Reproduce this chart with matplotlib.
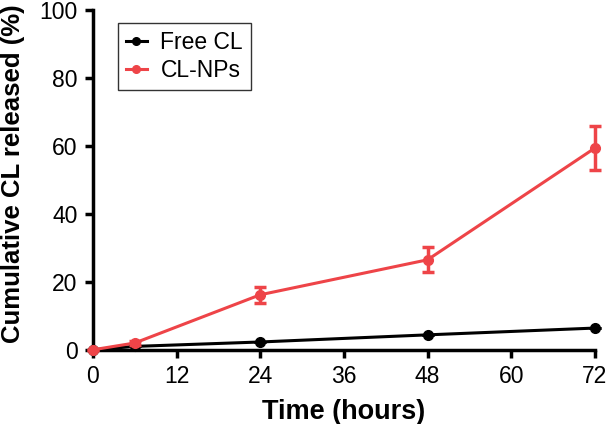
import matplotlib
matplotlib.use("Agg")
import matplotlib.pyplot as plt
from matplotlib.lines import Line2D

plt.rcParams["font.family"] = ["Liberation Sans", "DejaVu Sans"]

time_h = [0, 6, 24, 48, 72]
free_cl = [0, 1.0, 2.3, 4.4, 6.4]
free_cl_err = [0, 0, 0, 0, 0]
cl_nps = [0, 2.0, 16.2, 26.5, 59.4]
cl_nps_err = [0, 0.5, 2.4, 3.7, 6.4]

black = "black"
red = "#ee4448"

fig = plt.figure(figsize=(6.07, 4.24), dpi=100)
ax = fig.add_axes([0.153, 0.175, 0.827, 0.801])

ax.errorbar(time_h, free_cl, yerr=free_cl_err, color=black, marker="o", markersize=7,
            linewidth=2.2, capsize=4, capthick=2, elinewidth=2, zorder=3, clip_on=False)
ax.errorbar(time_h, cl_nps, yerr=cl_nps_err, color=red, marker="o", markersize=7,
            linewidth=2.2, capsize=4, capthick=2.5, elinewidth=2.5, zorder=4, clip_on=False)

ax.set_xlim(0, 72)
ax.set_ylim(0, 100)
ax.set_xticks([0, 12, 24, 36, 48, 60, 72])
ax.set_yticks([0, 20, 40, 60, 80, 100])
for s in ["top", "right"]:
    ax.spines[s].set_visible(False)
for s in ["left", "bottom"]:
    ax.spines[s].set_linewidth(2.5)
ax.tick_params(width=2.5, length=6, labelsize=16.5, pad=5)

ax.set_xlabel("Time (hours)", fontsize=19.5, fontweight="bold", labelpad=8)
ax.set_ylabel("Cumulative CL released (%)", fontsize=18.5, fontweight="bold")
ax.yaxis.set_label_coords(-0.135, 0.52)

handles = [Line2D([], [], color=black, marker="o", markersize=5.5, linewidth=2.2),
           Line2D([], [], color=red, marker="o", markersize=5.5, linewidth=2.2)]
leg = ax.legend(handles, ["Free CL", "CL-NPs"], loc="upper left",
                bbox_to_anchor=(118 / 607, 1 - 23 / 424), bbox_transform=fig.transFigure,
                fontsize=16.5, frameon=True, fancybox=False, edgecolor="black",
                handlelength=0.9, borderpad=0.35, labelspacing=0.2, handletextpad=0.6,
                borderaxespad=0)
leg.get_frame().set_linewidth(1)

fig.savefig("out.png", dpi=100)
